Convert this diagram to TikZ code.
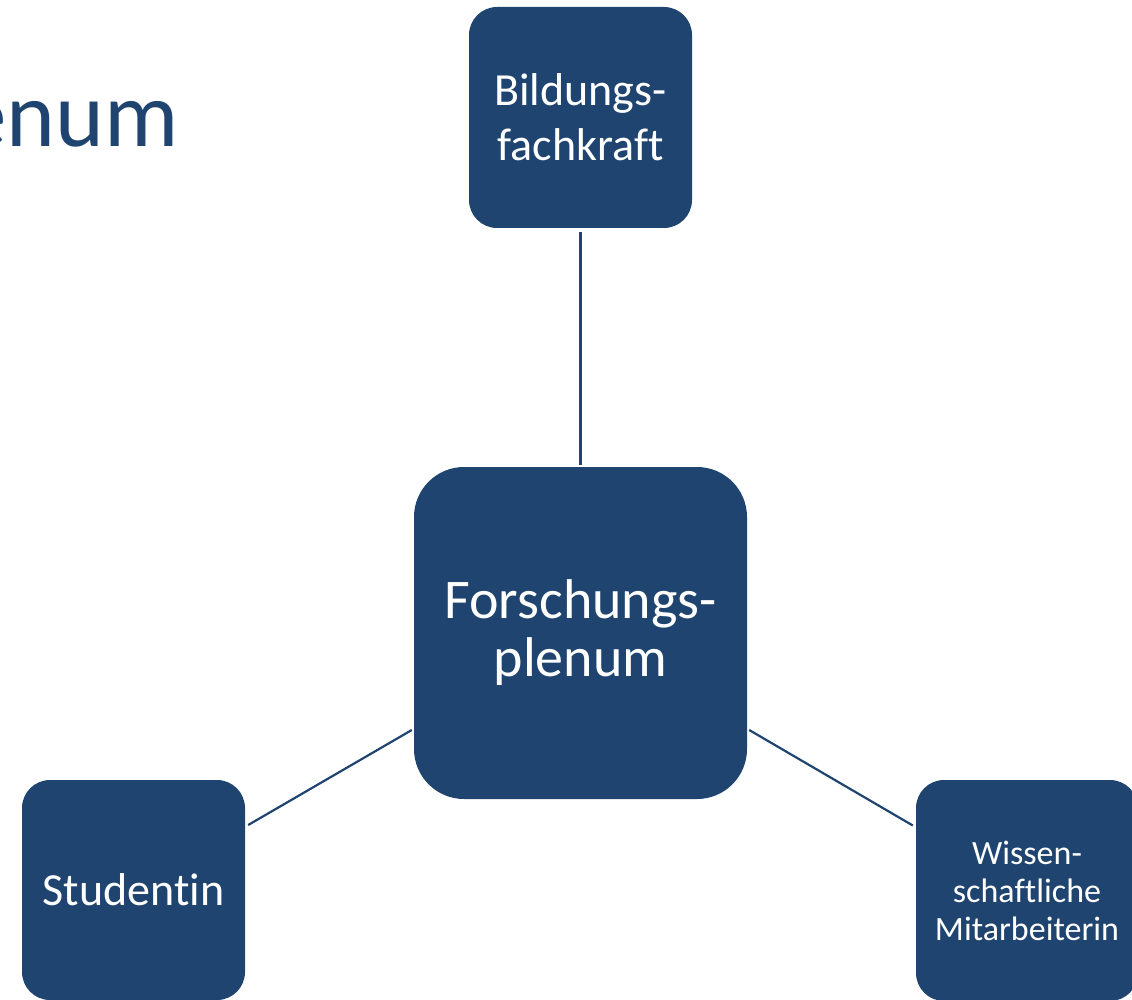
\documentclass[tikz,border=0pt]{standalone}
\usepackage{fontspec}
\setmainfont{Carlito}[Ligatures=NoCommon]
\usetikzlibrary{calc}
\definecolor{navy}{HTML}{1F446F}
\tikzset{
  card/.style={fill=navy, draw=none, text=white, align=center, inner sep=0pt},
  link/.style={draw=navy, line width=2.2pt},
}
\begin{document}
\begin{tikzpicture}[x=1pt,y=-1pt]
  \useasboundingbox (0,0) rectangle (1132,1000);
  \clip (0,0) rectangle (1132,1000);

  % title, partly outside the page
  \node[anchor=base east, inner sep=0pt, text=navy,
        font=\fontsize{93}{110}\selectfont] (title) at (179,147) {enum};

  % the four cards
  \node[card, minimum width=333pt, minimum height=332pt, rounded corners=50pt,
        font=\fontsize{56}{58}\selectfont] (fp) at (580.5,633) {Forschungs-\\plenum};
  \node[card, minimum width=223pt, minimum height=221pt, rounded corners=28pt,
        font=\fontsize{46}{55}\selectfont] (bf) at (580.5,117.5) {Bildungs-\\fachkraft};
  \node[card, minimum width=223pt, minimum height=220pt, rounded corners=28pt,
        font=\fontsize{46}{55}\selectfont] (st) at (133.5,890) {Studentin};
  \node[card, minimum width=222pt, minimum height=221pt, rounded corners=28pt,
        font=\fontsize{34}{38}\selectfont] (wm) at (1027,890.5) {Wissen-\\schaftliche\\Mitarbeiterin};

  % connectors
  \draw[link] ([yshift=-4pt]bf.south) -- ([yshift=2pt]fp.north);
  \draw[link] ([xshift=3pt,yshift=65pt]st.east) -- ([xshift=-2pt,yshift=-97pt]fp.west);
  \draw[link] ([xshift=2pt,yshift=-97pt]fp.east) -- ([xshift=-3pt,yshift=65pt]wm.west);
\end{tikzpicture}
\end{document}
